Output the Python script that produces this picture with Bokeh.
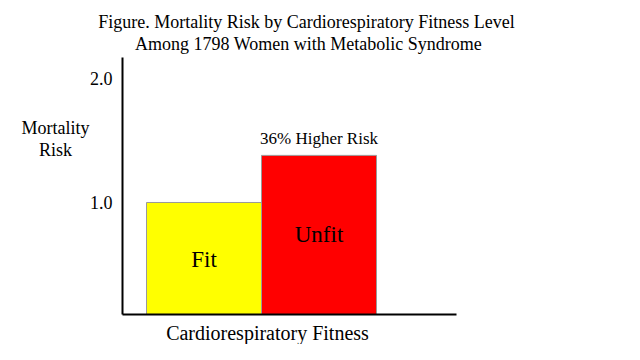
from bokeh.plotting import figure
from bokeh.models import ColumnDataSource, FixedTicker, Label, Range1d
from bokeh.core.properties import value
from bokeh.embed import file_html
from bokeh.resources import INLINE

# ---- data ----
categories = ["Fit", "Unfit"]
risk = [1.0, 1.38]
colors = ["#ffff00", "#ff0000"]
y_ticks = [1.0, 2.0]
y_tick_labels = {1.0: "1.0", 2.0: "2.0"}
title_lines = ["Figure. Mortality Risk by Cardiorespiratory Fitness Level",
               "Among 1798 Women with Metabolic Syndrome"]
annotation = "36% Higher Risk"
x_label = "Cardiorespiratory Fitness"
y_label_lines = ["Mortality", "Risk"]

FONT = "Liberation Serif"

# axis extents (value space)
x_axis_bounds = (0.291, 3.196)
y_axis_bounds = (0.097, 2.169)
baseline = y_axis_bounds[0]

xs = [i + 1 for i in range(len(categories))]
src = ColumnDataSource(dict(x=xs, top=risk, color=colors, cat=categories,
                            ly=[r * 0.54 for r in risk]))

W, H = 624, 344
p = figure(width=W, height=H, output_backend="svg", toolbar_location=None,
           x_range=Range1d(-0.7696, 4.6565), y_range=Range1d(-0.1452, 2.629),
           min_border_left=0, min_border_right=0, min_border_top=0,
           min_border_bottom=0)
p.outline_line_color = None
p.xgrid.visible = False
p.ygrid.visible = False
p.background_fill_color = "white"
p.border_fill_color = "white"

p.vbar(x="x", top="top", bottom=baseline, width=1.0, fill_color="color",
       line_color="#9a9a9a", line_width=1, source=src)

p.text(x="x", y="ly", text="cat", source=src, text_align="center",
       text_baseline="middle", text_font=value(FONT), text_font_size="23px",
       text_color="black")

ann_src = ColumnDataSource(dict(x=[xs[-1]], y=[risk[-1] + 0.14], t=[annotation]))
p.text(x="x", y="y", text="t", source=ann_src, text_align="center",
       text_baseline="middle", text_font=value(FONT), text_font_size="17px",
       text_color="black")

# axes, pinned inside the frame
ya = p.yaxis[0]
ya.fixed_location = x_axis_bounds[0]
ya.bounds = y_axis_bounds
ya.ticker = FixedTicker(ticks=y_ticks)
ya.major_label_overrides = y_tick_labels
ya.major_tick_line_color = None
ya.minor_tick_line_color = None
ya.major_tick_out = 0
ya.major_tick_in = 0
ya.major_label_standoff = 10
ya.major_label_text_font = FONT
ya.major_label_text_font_size = "18px"
ya.major_label_text_color = "black"
ya.axis_line_color = "black"
ya.axis_line_width = 2

xa = p.xaxis[0]
xa.fixed_location = baseline
xa.bounds = x_axis_bounds
xa.ticker = FixedTicker(ticks=[])
xa.major_tick_line_color = None
xa.minor_tick_line_color = None
xa.major_label_text_font_size = "0px"
xa.axis_line_color = "black"
xa.axis_line_width = 2

# titles / labels (canvas units, y from top)
def lab(txt, x, y, size):
    p.add_layout(Label(x=x, y=y, x_units="canvas", y_units="canvas", text=txt,
                       text_align="center", text_baseline="middle",
                       text_font=FONT, text_font_size=size, text_color="black"))

lab(title_lines[0], 306, 21, "18px")
lab(title_lines[1], 308, 43, "18px")
lab(x_label, 267, 332, "20px")
lab(y_label_lines[0], 55, 127, "18px")
lab(y_label_lines[1], 55, 149, "18px")

open("out.html", "w").write(file_html(p, INLINE))
